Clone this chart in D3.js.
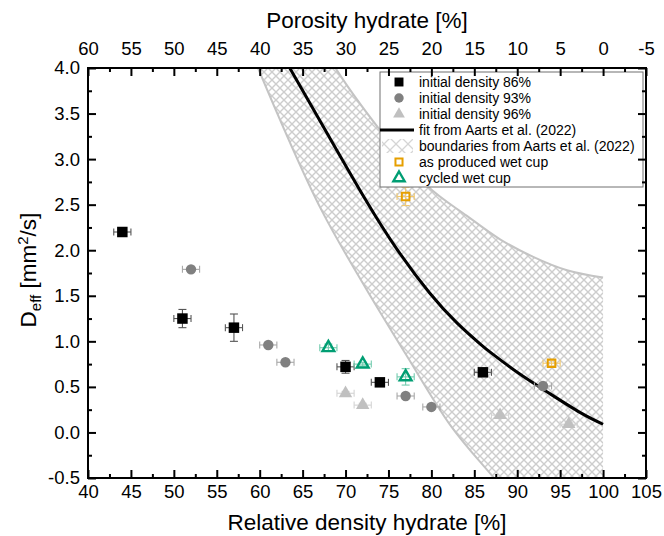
<!DOCTYPE html>
<html><head><meta charset="utf-8">
<script src="https://cdn.jsdelivr.net/npm/d3@7"></script>
<style>body{margin:0;background:#fff}text{font-family:"Liberation Sans",Arial,sans-serif;fill:#000}</style>
</head><body><svg id="c" width="664" height="536"></svg>
<script>
// ---- data ----
const d86X = [44, 51, 57, 70, 74, 86];
const d86Y = [2.2, 1.25, 1.15, 0.72, 0.55, 0.66];
const d86Ex = [1, 1, 1, 1, 1, 1];
const d86Ey = [0.02, 0.1, 0.15, 0.07, 0.03, 0.03];

const d93X = [52, 61, 63, 77, 80, 93];
const d93Y = [1.79, 0.96, 0.77, 0.4, 0.28, 0.51];
const d93Ex = [1, 1, 1, 1, 1, 1];
const d93Ey = [0.02, 0.02, 0.02, 0.02, 0.02, 0.02];

const d96X = [70, 72, 88, 96];
const d96Y = [0.43, 0.3, 0.19, 0.09];
const d96Ex = [1, 1, 1, 1];
const d96Ey = [0.02, 0.02, 0.02, 0.02];

const wetX = [77, 94];
const wetY = [2.59, 0.76];
const wetEx = [1, 1];
const wetEy = [0.1, 0.03];

const cycX = [68, 72, 77];
const cycY = [0.93, 0.75, 0.61];
const cycEx = [1, 1, 1];
const cycEy = [0.04, 0.02, 0.09];

const fitX = [63.5, 68, 72.3, 76, 79.8, 83, 85.7, 87, 90, 93.4, 97.3, 100];
const fitY = [4.0, 3.26, 2.56, 2.01, 1.53, 1.2, 0.97, 0.87, 0.66, 0.45, 0.22, 0.09];

const upperX = [68.5, 69.1, 74.0, 79.6, 84.1, 88, 91.8, 95.8, 100];
const upperY = [4.05, 3.96, 3.32, 2.70, 2.38, 2.12, 1.93, 1.78, 1.70];

const lowerX = [59.8, 67.2, 72, 77.2, 82.2, 87.2, 90];
const lowerY = [4.0, 2.44, 1.64, 0.83, 0.08, -0.49, -0.8];

const xTicks = [40, 45, 50, 55, 60, 65, 70, 75, 80, 85, 90, 95, 100, 105];
const topTicks = [60, 55, 50, 45, 40, 35, 30, 25, 20, 15, 10, 5, 0, -5];
const yTicks = [-0.5, 0.0, 0.5, 1.0, 1.5, 2.0, 2.5, 3.0, 3.5, 4.0];

const legendLabels = ["initial density 86%", "initial density 93%", "initial density 96%",
  "fit from Aarts et al. (2022)", "boundaries from Aarts et al. (2022)",
  "as produced wet cup", "cycled wet cup"];

// ---- setup ----
const L = 88, R = 646, T = 68, B = 478;
const svg = d3.select("#c");
const x = d3.scaleLinear([40, 105], [L, R]);
const xTop = d3.scaleLinear([60, -5], [L, R]);
const y = d3.scaleLinear([-0.5, 4], [B, T]);

const defs = svg.append("defs");
const pat = defs.append("pattern").attr("id", "hatch").attr("patternUnits", "userSpaceOnUse")
  .attr("width", 8).attr("height", 8);
pat.append("path").attr("d", "M0,0L8,8M8,0L0,8").attr("stroke", "#cdcdcd").attr("stroke-width", 1.4).attr("fill", "none");
const pat2 = defs.append("pattern").attr("id", "hatch2").attr("patternUnits", "userSpaceOnUse")
  .attr("width", 12).attr("height", 12);
pat2.append("path").attr("d", "M0,0L12,12M12,0L0,12").attr("stroke", "#d5d5d5").attr("stroke-width", 1.3).attr("fill", "none");
defs.append("clipPath").attr("id", "clip").append("rect")
  .attr("x", L).attr("y", T).attr("width", R - L).attr("height", B - T);

const plot = svg.append("g").attr("clip-path", "url(#clip)");
const lineGen = d3.line().x(d => x(d[0])).y(d => y(d[1])).curve(d3.curveMonotoneX);
const fitGen = d3.line().x(d => x(d[0])).y(d => y(d[1])).curve(d3.curveNatural);

// boundaries area
const lowerPts = d3.zip(lowerX, lowerY);
const upperPts = d3.zip(upperX, upperY);
const lastLow = lowerPts[lowerPts.length - 1];
const upRev = upperPts.slice().reverse();
const areaD = lineGen(lowerPts) + `L${x(upperX[upperX.length - 1])},${y(lastLow[1])}` +
  lineGen(upRev).replace(/^M/, "L") + "Z";
plot.append("path").attr("d", areaD).attr("fill", "url(#hatch)").attr("stroke", "none");
plot.append("path").attr("d", lineGen(lowerPts)).attr("fill", "none").attr("stroke", "#c4c4c4").attr("stroke-width", 2);
plot.append("path").attr("d", lineGen(upperPts)).attr("fill", "none").attr("stroke", "#c4c4c4").attr("stroke-width", 2);

// fit
plot.append("path").attr("d", fitGen(d3.zip(fitX, fitY))).attr("fill", "none")
  .attr("stroke", "#000").attr("stroke-width", 3);

// error bars + markers
function series(xs, ys, exs, eys, errColor, sym, size, fill, stroke, sw) {
  const g = plot.append("g");
  xs.forEach((xv, i) => {
    const cx = x(xv), cy = y(ys[i]);
    const x0 = x(xv - exs[i]), x1 = x(xv + exs[i]);
    const y0 = y(ys[i] - eys[i]), y1 = y(ys[i] + eys[i]);
    const e = g.append("g").attr("stroke", errColor).attr("stroke-width", 1.1).attr("fill", "none");
    e.append("line").attr("x1", x0).attr("x2", x1).attr("y1", cy).attr("y2", cy);
    e.append("line").attr("x1", x0).attr("x2", x0).attr("y1", cy - 3.5).attr("y2", cy + 3.5);
    e.append("line").attr("x1", x1).attr("x2", x1).attr("y1", cy - 3.5).attr("y2", cy + 3.5);
    e.append("line").attr("x1", cx).attr("x2", cx).attr("y1", y0).attr("y2", y1);
    e.append("line").attr("x1", cx - 4).attr("x2", cx + 4).attr("y1", y0).attr("y2", y0);
    e.append("line").attr("x1", cx - 4).attr("x2", cx + 4).attr("y1", y1).attr("y2", y1);
  });
  g.selectAll("path.m").data(xs).join("path").attr("class", "m")
    .attr("d", d3.symbol(sym, size)())
    .attr("transform", (d, i) => `translate(${x(d)},${y(ys[i])})`)
    .attr("fill", fill).attr("stroke", stroke).attr("stroke-width", sw);
}
series(d96X, d96Y, d96Ex, d96Ey, "#d4d4d4", d3.symbolTriangle, 78, "#c0c0c0", "none", 0);
series(d93X, d93Y, d93Ex, d93Ey, "#a8a8a8", d3.symbolCircle, 85, "#808080", "none", 0);
series(d86X, d86Y, d86Ex, d86Ey, "#555", d3.symbolSquare, 110, "#000", "none", 0);
series(wetX, wetY, wetEx, wetEy, "#f0c870", d3.symbolSquare, 58, "none", "#E69F00", 2);
series(cycX, cycY, cycEx, cycEy, "#72cbae", d3.symbolTriangle, 60, "none", "#009E73", 2.4);

// legend
const lg = svg.append("g");
const lx = 380, ly = 72, lw = 263, lh = 115;
lg.append("rect").attr("x", lx).attr("y", ly).attr("width", lw).attr("height", lh)
  .attr("fill", "#fff").attr("stroke", "#707070").attr("stroke-width", 1);
const rowY = i => 82 + i * 16;
const sx = 399;
lg.append("path").attr("d", d3.symbol(d3.symbolSquare, 80)()).attr("transform", `translate(${sx},${rowY(0)})`).attr("fill", "#000");
lg.append("path").attr("d", d3.symbol(d3.symbolCircle, 70)()).attr("transform", `translate(${sx},${rowY(1)})`).attr("fill", "#808080");
lg.append("path").attr("d", d3.symbol(d3.symbolTriangle, 60)()).attr("transform", `translate(${sx},${rowY(2)})`).attr("fill", "#c0c0c0");
lg.append("line").attr("x1", 380).attr("x2", 414).attr("y1", rowY(3)).attr("y2", rowY(3)).attr("stroke", "#000").attr("stroke-width", 3);
lg.append("rect").attr("x", 382).attr("y", rowY(4) - 7).attr("width", 31).attr("height", 14).attr("fill", "url(#hatch2)");
lg.append("path").attr("d", d3.symbol(d3.symbolSquare, 50)()).attr("transform", `translate(${sx},${rowY(5)})`).attr("fill", "none").attr("stroke", "#E69F00").attr("stroke-width", 2);
lg.append("path").attr("d", d3.symbol(d3.symbolTriangle, 55)()).attr("transform", `translate(${sx},${rowY(6)})`).attr("fill", "none").attr("stroke", "#009E73").attr("stroke-width", 2.4);
lg.selectAll("text").data(legendLabels).join("text")
  .attr("x", 419).attr("y", (d, i) => rowY(i)).attr("dy", "0.36em")
  .attr("font-size", 14).text(d => d);

// axes
const minorX = d3.range(42.5, 105, 5);
const minorTop = d3.range(57.5, -5, -5);
const minorY = d3.range(-0.25, 4, 0.5);
function styleAxis(g) {
  g.select(".domain").remove();
  g.selectAll(".tick line").attr("stroke", "#000").attr("stroke-width", 2);
  g.selectAll(".tick text").attr("font-size", 18.5).attr("fill", "#000")
    .attr("font-family", '"Liberation Sans",Arial,sans-serif');
}
svg.append("g").attr("transform", `translate(0,${B})`)
  .call(d3.axisBottom(x).tickValues(xTicks).tickSize(-8).tickPadding(7).tickFormat(d3.format("d"))).call(styleAxis);
svg.append("g").attr("transform", `translate(0,${B})`)
  .call(d3.axisBottom(x).tickValues(minorX).tickSize(-4).tickFormat("")).call(styleAxis);
svg.append("g").attr("transform", `translate(0,${T})`)
  .call(d3.axisTop(xTop).tickValues(topTicks).tickSize(-8).tickPadding(13).tickFormat(d3.format("d"))).call(styleAxis);
svg.append("g").attr("transform", `translate(0,${T})`)
  .call(d3.axisTop(xTop).tickValues(minorTop).tickSize(-4).tickFormat("")).call(styleAxis);
svg.append("g").attr("transform", `translate(${L},0)`)
  .call(d3.axisLeft(y).tickValues(yTicks).tickSize(-8).tickPadding(8).tickFormat(d3.format(".1f"))).call(styleAxis);
svg.append("g").attr("transform", `translate(${L},0)`)
  .call(d3.axisLeft(y).tickValues(minorY).tickSize(-4).tickFormat("")).call(styleAxis);
svg.append("g").attr("transform", `translate(${R},0)`)
  .call(d3.axisRight(y).tickValues(yTicks).tickSize(-8).tickFormat("")).call(styleAxis);
svg.append("g").attr("transform", `translate(${R},0)`)
  .call(d3.axisRight(y).tickValues(minorY).tickSize(-4).tickFormat("")).call(styleAxis);
svg.selectAll(".tick text").text(function () { return this.textContent.replace("\u2212", "-"); });

svg.append("rect").attr("x", L).attr("y", T).attr("width", R - L).attr("height", B - T)
  .attr("fill", "none").attr("stroke", "#000").attr("stroke-width", 2);

// titles
svg.append("text").attr("x", (L + R) / 2).attr("y", 28).attr("text-anchor", "middle")
  .attr("font-size", 22.5).text("Porosity hydrate [%]");
svg.append("text").attr("x", (L + R) / 2).attr("y", 530).attr("text-anchor", "middle")
  .attr("font-size", 22.5).text("Relative density hydrate [%]");
const yl = svg.append("text").attr("transform", "translate(36,270) rotate(-90)")
  .attr("text-anchor", "middle").attr("font-size", 22.5);
yl.append("tspan").text("D");
yl.append("tspan").attr("font-size", 15).attr("dy", 5).text("eff");
yl.append("tspan").attr("dy", -5).text(" [mm");
yl.append("tspan").attr("font-size", 15).attr("dy", -8).text("2");
yl.append("tspan").attr("dy", 8).text("/s]");
</script></body></html>
